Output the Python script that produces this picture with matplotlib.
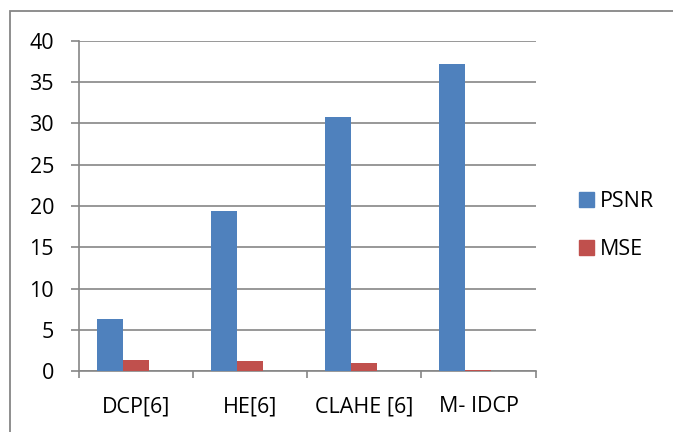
import numpy as np
import matplotlib.pyplot as plt
from matplotlib.patches import Rectangle, Patch

# data
methods = ['DCP[6]', 'HE[6]', 'CLAHE [6]', 'M- IDCP']
psnr = [6.3, 19.4, 30.8, 37.2]
mse = [1.37, 1.25, 0.93, 0.15]

BLUE = '#4F81BD'
RED = '#C0504D'
GRAY = '#868686'

plt.rcParams['font.family'] = ['Open Sans', 'DejaVu Sans']

fig = plt.figure(figsize=(6.73, 4.32), dpi=100)
ax = fig.add_axes([0.1174, 0.1412, 0.6783, 0.7639])

x = np.arange(len(methods))
w = 0.228
ax.bar(x - w, psnr, width=w, color=BLUE, label='PSNR', zorder=3)
ax.bar(x, mse, width=w, color=RED, label='MSE', zorder=3)

ax.set_xlim(-0.5, len(methods) - 0.5)
ax.set_ylim(0, 40)
ax.set_yticks(np.arange(0, 41, 5))
ax.yaxis.grid(True, color=GRAY, linewidth=1.2, zorder=0)
ax.tick_params(axis='y', length=6, width=1.2, color=GRAY, pad=12, labelsize=15.5)

# category labels centred, tick marks on the boundaries
ax.set_xticks(x)
ax.set_xticklabels(methods)
ax.set_xticks(np.arange(-0.5, len(methods)), minor=True)
ax.tick_params(axis='x', which='major', length=0, pad=18, labelsize=15.5)
ax.tick_params(axis='x', which='minor', length=5, width=1.2, color=GRAY)

for s in ['top', 'right']:
    ax.spines[s].set_visible(False)
for s in ['left', 'bottom']:
    ax.spines[s].set_color(GRAY)
    ax.spines[s].set_linewidth(1.2)

handles = [Patch(color=BLUE), Patch(color=RED)]
fig.legend(handles, ['PSNR', 'MSE'], loc='center left',
           bbox_to_anchor=(0.832, 0.478), frameon=False, fontsize=15.5,
           handlelength=0.7, handleheight=0.7, handletextpad=0.25,
           labelspacing=1.25)

# outer chart border
fig.patches.append(Rectangle((10 / 673, -0.1), 1.2, 1 - 11 / 432 + 0.1,
                             transform=fig.transFigure, fill=False,
                             edgecolor=GRAY, linewidth=1.3))

fig.savefig('out.png', dpi=100)
